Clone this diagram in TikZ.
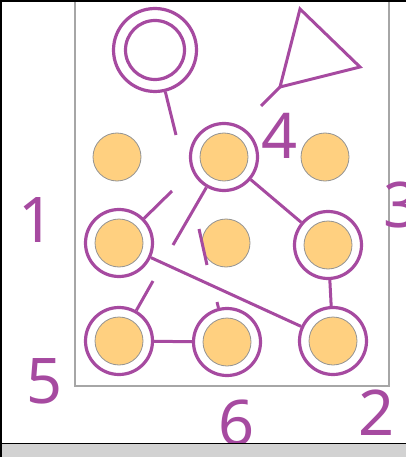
\documentclass[tikz,border=0pt]{standalone}
\usepackage{fontspec}
\newfontfamily\digitfont{Noto Sans}
\definecolor{lockpurple}{RGB}{166,74,160}
\definecolor{dotorange}{RGB}{255,208,128}

\begin{document}
\begin{tikzpicture}[x=1pt, y=-1pt,
  dot/.style={circle, fill=dotorange, draw=gray!85, line width=0.8pt, minimum size=48pt, inner sep=0pt},
  ring/.style={circle, draw=lockpurple, line width=3.2pt, minimum size=67pt, inner sep=0pt},
  stroke/.style={draw=lockpurple, line width=3pt},
  digit/.style={text=lockpurple, inner sep=0pt, font=\digitfont\fontsize{63}{63}\selectfont}]
  \useasboundingbox (0,0) rectangle (406,457);

  % Frame of the screen
  \draw[line width=1.2pt, gray!70] (75,-5) rectangle (389,386);

  % Grid of 3 x 3 dots
  \foreach \name/\x/\y in {d1/117/157, d2/224/157, d3/325/157,
                           d4/119/243, d5/226/243, d6/328/245,
                           d7/119/341, d8/227/342, d9/333/341}
    \node[dot] (\name) at (\x,\y) {};

  % Rings round the chosen dots
  \foreach \r/\d in {4/d2, 1/d4, 3/d6, 5/d7, 6/d8, 2/d9}
    \node[ring] (ring\r) at (\d) {};

  % Double ring and triangle on top
  \node[circle, draw=lockpurple, line width=3.2pt, minimum size=83pt, inner sep=0pt] (target) at (155,50) {};
  \node[circle, draw=lockpurple, line width=3.2pt, minimum size=59pt, inner sep=0pt] at (target) {};
  \draw[stroke, line join=miter] (300,9) -- (360,67) -- (280,87) -- cycle;
  \coordinate (arrowtip) at (280,87);

  % Free ends of the broken strokes
  \coordinate (tail0) at (176,135);
  \coordinate (tail1) at (261,106);
  \coordinate (tail2) at (173,245);
  \coordinate (tail3) at (172,191);
  \coordinate (tail4) at (153,281);
  \coordinate (tail5) at (217,302);
  \coordinate (tail6a) at (199,229);
  \coordinate (tail6b) at (207,265);

  % Connecting strokes
  \draw[stroke] (target) -- (tail0);
  \draw[stroke] (arrowtip) -- (tail1);
  \draw[stroke] (ring4) -- (ring3);
  \draw[stroke] (ring4) -- (tail2);
  \draw[stroke] (ring1) -- (tail3);
  \draw[stroke] (ring1) -- (ring2);
  \draw[stroke] (ring3) -- (ring2);
  \draw[stroke] (ring5) -- (tail4);
  \draw[stroke] (ring5) -- (ring6);
  \draw[stroke] (ring6) -- (tail5);
  \draw[stroke] (tail6a) -- (tail6b);

  % Digits
  \node[digit] (lab4) at (280,136) {4};
  \node[digit] (lab1) at (37,220) {1};
  \node[digit] (lab3) at (402,205) {3};
  \node[digit] (lab5) at (45,381) {5};
  \node[digit] (lab6) at (237,423) {6};
  \node[digit] (lab2) at (377,413) {2};

  % Window border and bottom bar
  \fill[gray!35] (0,444) rectangle (406,457);
  \draw[line width=1.5pt] (0,443.5) -- (406,443.5);
  \draw[line width=2pt] (0,0.8) -- (406,0.8);
  \draw[line width=2.5pt] (1.2,0) -- (1.2,457);
\end{tikzpicture}
\end{document}
